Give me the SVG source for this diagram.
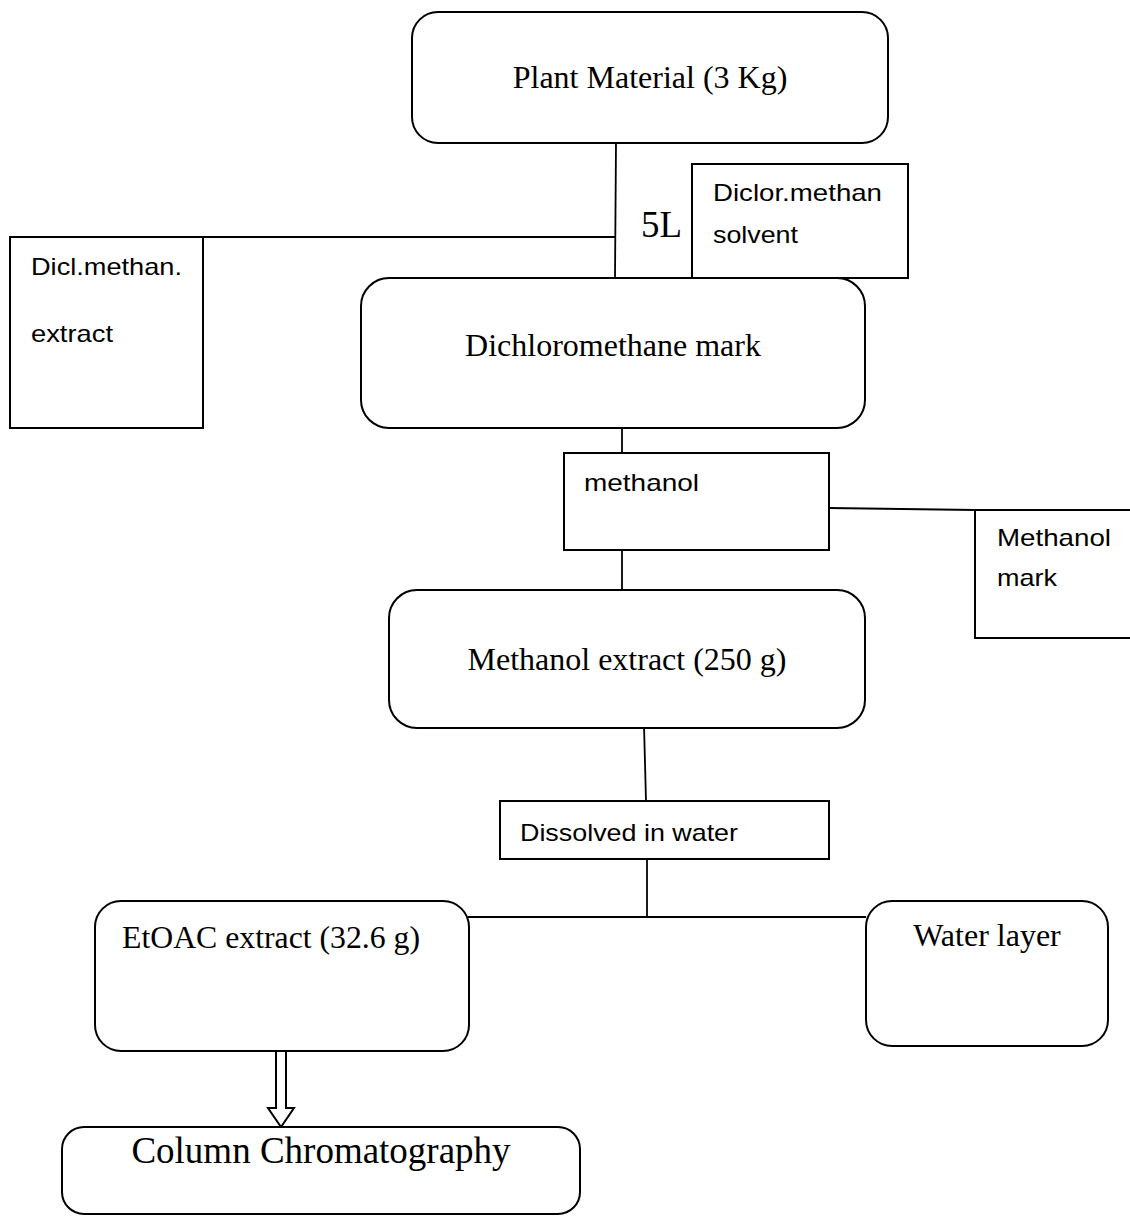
<svg xmlns="http://www.w3.org/2000/svg" width="1130" height="1217" viewBox="0 0 1130 1217">
<style>
.box{fill:#fff;stroke:#000;stroke-width:2}
.ln{fill:none;stroke:#000;stroke-width:1.8}
.serif{font-family:"Liberation Serif","Times New Roman",serif;fill:#000}
.sans{font-family:"Liberation Sans",Arial,sans-serif;font-size:24px;fill:#000}
</style>
<rect width="1130" height="1217" fill="#fff"/>
<g id="connectors">
<line class="ln" x1="616" y1="143" x2="615" y2="278"/>
<line class="ln" x1="203" y1="237" x2="616" y2="237"/>
<line class="ln" x1="622" y1="428" x2="622" y2="453"/>
<line class="ln" x1="622" y1="550" x2="622" y2="590"/>
<line class="ln" x1="829" y1="508" x2="975" y2="510"/>
<line class="ln" x1="644" y1="725" x2="646" y2="801"/>
<line class="ln" x1="647" y1="859" x2="647" y2="917"/>
<line class="ln" x1="468" y1="917" x2="866" y2="917"/>
<path class="box" d="M276,1051 L286,1051 L286,1108 L294,1108 L281,1127 L268,1108 L276,1108 Z" stroke-width="1.5"/>
</g>
<g id="plant">
<rect class="box" x="412" y="12" width="476" height="131" rx="26"/>
<text class="serif" x="650" y="88" font-size="32" text-anchor="middle">Plant Material (3 Kg)</text>
</g>
<g id="solvent">
<rect class="box" x="692" y="164" width="216" height="114"/>
<text class="sans" x="713" y="201" textLength="169" lengthAdjust="spacingAndGlyphs">Diclor.methan</text>
<text class="sans" x="713" y="243" textLength="85" lengthAdjust="spacingAndGlyphs">solvent</text>
</g>
<g id="label5L">
<text class="serif" x="641" y="237" font-size="37" textLength="41" lengthAdjust="spacingAndGlyphs">5L</text>
</g>
<g id="dclextract">
<rect class="box" x="10" y="237" width="193" height="191"/>
<text class="sans" x="31" y="275" textLength="151" lengthAdjust="spacingAndGlyphs">Dicl.methan.</text>
<text class="sans" x="31" y="342" textLength="82" lengthAdjust="spacingAndGlyphs">extract</text>
</g>
<g id="dcmmark">
<rect class="box" x="361" y="278" width="504" height="150" rx="28"/>
<text class="serif" x="613" y="356" font-size="32" text-anchor="middle">Dichloromethane mark</text>
</g>
<g id="methanol">
<rect class="box" x="564" y="453" width="265" height="97"/>
<text class="sans" x="584" y="491" textLength="115" lengthAdjust="spacingAndGlyphs">methanol</text>
</g>
<g id="methanolmark">
<rect class="box" x="975" y="510" width="170" height="128"/>
<text class="sans" x="997" y="546" textLength="114" lengthAdjust="spacingAndGlyphs">Methanol</text>
<text class="sans" x="997" y="586" textLength="60" lengthAdjust="spacingAndGlyphs">mark</text>
</g>
<g id="methanolextract">
<rect class="box" x="389" y="590" width="476" height="138" rx="28"/>
<text class="serif" x="627" y="670" font-size="32" text-anchor="middle">Methanol extract (250 g)</text>
</g>
<g id="dissolved">
<rect class="box" x="500" y="801" width="329" height="58"/>
<text class="sans" x="520" y="841" textLength="218" lengthAdjust="spacingAndGlyphs">Dissolved in water</text>
</g>
<g id="etoac">
<rect class="box" x="95" y="901" width="374" height="150" rx="26"/>
<text class="serif" x="122" y="948" font-size="32" textLength="298" lengthAdjust="spacingAndGlyphs">EtOAC extract (32.6 g)</text>
</g>
<g id="water">
<rect class="box" x="866" y="901" width="242" height="145" rx="26"/>
<text class="serif" x="987" y="946" font-size="32" text-anchor="middle">Water layer</text>
</g>
<g id="column">
<rect class="box" x="62" y="1127" width="518" height="87" rx="22"/>
<text class="serif" x="321" y="1163" font-size="37" text-anchor="middle">Column Chromatography</text>
</g>
</svg>
